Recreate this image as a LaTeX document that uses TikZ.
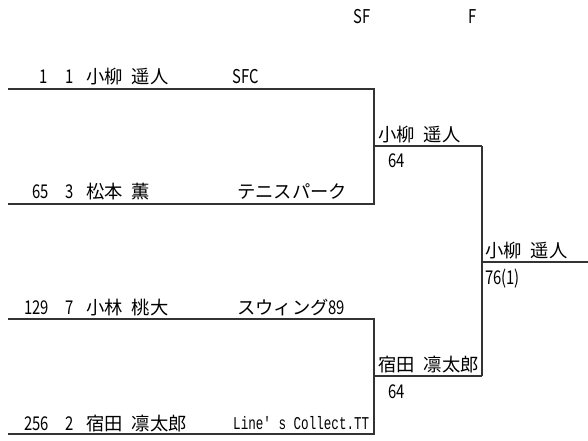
\documentclass[tikz,border=0pt]{standalone}
\usepackage{fontspec}
\setmainfont{Noto Sans CJK JP}
\newfontfamily\mono{Liberation Mono}
\newcommand{\nar}[1]{\scalebox{0.78}[1]{\fontsize{19}{19}\selectfont #1}}
\newcommand{\sep}{\hspace{9pt}}
\begin{document}
\begin{tikzpicture}[x=1pt,y=-1pt,
  bline/.style={line width=1.1pt,draw=black!80},
  txt/.style={inner sep=0pt,anchor=base west,font=\fontsize{18.3}{18.3}\selectfont},
  rtxt/.style={inner sep=0pt,anchor=base east,font=\fontsize{18.3}{18.3}\selectfont}]
\useasboundingbox (0,0) rectangle (588,440);
% header
\node[txt] (hsf) at (353,23) {\nar{SF}};
\node[txt] (hf) at (468,23) {\nar{F}};
% coordinates
\coordinate (a1) at (8,89);   \coordinate (b1) at (374,89);
\coordinate (a2) at (8,204);  \coordinate (b2) at (374,204);
\coordinate (a3) at (8,319);  \coordinate (b3) at (374,319);
\coordinate (a4) at (8,434);  \coordinate (b4) at (374,434);
\coordinate (s1) at (374,146); \coordinate (t1) at (482,146);
\coordinate (s2) at (374,376); \coordinate (t2) at (482,376);
\coordinate (f1) at (482,262); \coordinate (f2) at (588,262);
\draw[bline] (a1) -- (b1) -- (b2) -- (a2);
\draw[bline] (a3) -- (b3) -- (b4) -- (a4);
\draw[bline] (s1) -- (t1);
\draw[bline] (s2) -- (t2);
\draw[bline] (t1) -- (t2);
\draw[bline] (f1) -- (f2);
% row 1
\node[rtxt] (d1) at (48,83) {\nar{1}};
\node[rtxt] (e1) at (74,83) {\nar{1}};
\node[txt] (n1) at (86,83) {小柳\sep 遥人};
\node[txt] (c1) at (232,83) {\nar{SFC}};
% row 2
\node[rtxt] (d2) at (49,198) {\nar{65}};
\node[rtxt] (e2) at (74,198) {\nar{3}};
\node[txt] (n2) at (86,198) {松本\sep 薫};
\node[txt] (c2) at (237,198) {テニスパーク};
% row 3
\node[rtxt] (d3) at (49,314) {\nar{129}};
\node[rtxt] (e3) at (74,314) {\nar{7}};
\node[txt] (n3) at (86,314) {小林\sep 桃大};
\node[txt] (c3) at (237,314) {スウィング\nar{89}};
% row 4
\node[rtxt] (d4) at (49,430) {\nar{256}};
\node[rtxt] (e4) at (74,430) {\nar{2}};
\node[txt] (n4) at (86,430) {宿田\sep 凛太郎};
\node[inner sep=0pt,anchor=base west] (c4) at (233,429) {\scalebox{0.70}[1]{\mono\fontsize{18}{18}\selectfont Line' s Collect.TT}};
% SF winners
\node[txt] (w1) at (378,141) {小柳\sep 遥人};
\node[txt] (w1s) at (388,167) {\nar{64}};
\node[txt] (w2) at (378,371) {宿田\sep 凛太郎};
\node[txt] (w2s) at (388,398) {\nar{64}};
% final
\node[txt] (fw) at (485,257) {小柳\sep 遥人};
\node[txt] (fws) at (485,284) {\nar{76(1)}};
\end{tikzpicture}
\end{document}
